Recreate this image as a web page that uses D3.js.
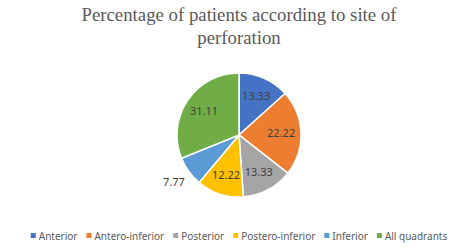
<!DOCTYPE html>
<html><head><meta charset="utf-8">
<script src="https://cdn.jsdelivr.net/npm/d3@7"></script>
<style>body{margin:0;background:#fff}svg{display:block}</style>
</head><body>
<svg id="c" width="470" height="247"></svg>
<script>
const categories = ["Anterior","Antero-inferior","Posterior","Postero-inferior","Inferior","All quadrants"];
const values = [13.33, 22.22, 13.33, 12.22, 7.77, 31.11];
const labels = ["13.33","22.22","13.33","12.22","7.77","31.11"];
const colors = ["#4472C4","#ED7D31","#A5A5A5","#FFC000","#5B9BD5","#70AD47"];
const titleLines = ["Percentage of patients according to site of","perforation"];

const svg = d3.select("#c");
const W = 470, cx = 239, cy = 135, R = 62;

svg.append("rect").attr("width",W).attr("height",247).attr("fill","#fff");

const title = svg.append("text").attr("text-anchor","middle")
  .attr("font-family","'Liberation Serif','Times New Roman',serif")
  .attr("font-size",18.8).attr("fill","#595959");
titleLines.forEach((t,i)=> title.append("tspan").attr("x",239).attr("y",20.5+i*23.5).text(t));

const pie = d3.pie().sort(null).value(d=>d);
const arcs = pie(values);
const arc = d3.arc().innerRadius(0).outerRadius(R);
const g = svg.append("g").attr("transform",`translate(${cx},${cy})`);
g.selectAll("path").data(arcs).join("path")
  .attr("d",arc).attr("fill",(d,i)=>colors[i])
  .attr("stroke","#fff").attr("stroke-width",1.5);

const inner = d3.arc().innerRadius(R*0.68).outerRadius(R*0.68);
const outer = d3.arc().innerRadius(R*1.3).outerRadius(R*1.3);
g.selectAll("text.lbl").data(arcs).join("text").attr("class","lbl")
  .attr("transform",(d,i)=>`translate(${(i===4?outer:inner).centroid(d)})`)
  .attr("text-anchor","middle").attr("dy","0.35em")
  .attr("font-family","'Noto Sans','Liberation Sans',sans-serif")
  .attr("font-size",11).attr("fill","#404040")
  .text((d,i)=>labels[i]);

// legend
const lg = svg.append("g");
const items = lg.selectAll("g").data(categories).join("g");
items.append("rect").attr("width",5).attr("height",5).attr("y",-3)
  .attr("fill",(d,i)=>colors[i]);
items.append("text").attr("x",8).attr("dy","0.35em")
  .attr("font-family","'Noto Sans','Liberation Sans',sans-serif")
  .attr("font-size",10).attr("fill","#595959").text(d=>d);
let x = 0;
items.each(function(){
  const n = d3.select(this);
  n.attr("transform",`translate(${x},0)`);
  x += 8 + n.select("text").node().getComputedTextLength() + 9;
});
const total = x - 9;
lg.attr("transform",`translate(${239 - total/2},236)`);
</script>
</body></html>
